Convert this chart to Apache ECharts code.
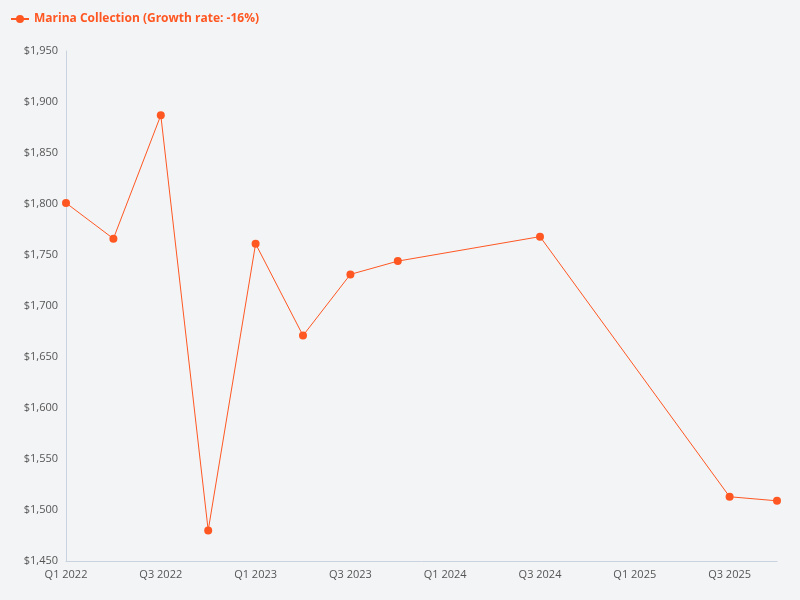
<!DOCTYPE html>
<html><head><meta charset="utf-8">
<script src="https://cdn.jsdelivr.net/npm/echarts@6/dist/echarts.min.js"></script>
<style>html,body{margin:0;background:#f3f4f6}#c{width:800px;height:600px}</style>
</head><body><div id="c"></div>
<script>
const categories=['Q1 2022','Q2 2022','Q3 2022','Q4 2022','Q1 2023','Q2 2023','Q3 2023','Q4 2023','Q1 2024','Q2 2024','Q3 2024','Q4 2024','Q1 2025','Q2 2025','Q3 2025','Q4 2025'];
const values=[1801,1766,1887,1480,1761,1671,1731,1744,null,null,1768,null,null,null,1513,1509];
const seriesName='Marina Collection (Growth rate: -16%)';
const color='#ff5722';
const chart=echarts.init(document.getElementById('c'));
chart.setOption({
 backgroundColor:'#f3f4f6',
 textStyle:{fontFamily:'Open Sans'},
 legend:{left:5,top:8,itemWidth:18,itemHeight:10,textStyle:{color:color,fontWeight:'bold',fontSize:12,fontFamily:'Open Sans'},data:[seriesName]},
 grid:{left:66,right:23,top:51,bottom:39,containLabel:false},
 xAxis:{type:'category',data:categories,boundaryGap:false,
  axisLine:{lineStyle:{color:'#c9d3e0'}},axisTick:{show:false},
  axisLabel:{interval:1,color:'#555',fontSize:11}},
 yAxis:{type:'value',min:1450,max:1950,interval:50,
  axisLine:{show:true,lineStyle:{color:'#c9d3e0'}},splitLine:{show:false},
  axisLabel:{color:'#555',fontSize:11,formatter:v=>'$'+v.toLocaleString('en-US')}},
 series:[{name:seriesName,type:'line',data:values,connectNulls:true,color:color,
  symbol:'circle',symbolSize:8,lineStyle:{width:1}}]
});
</script></body></html>
